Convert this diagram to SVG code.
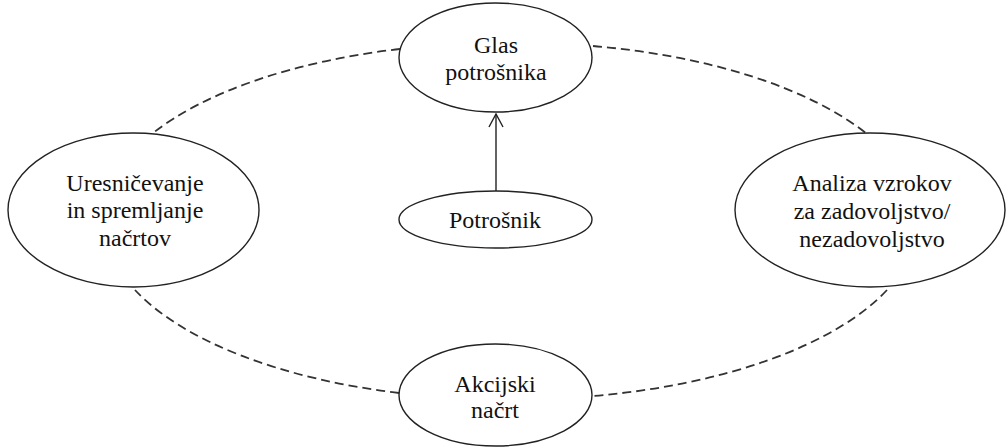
<svg xmlns="http://www.w3.org/2000/svg" width="1006" height="447" viewBox="0 0 1006 447">
  <defs>
    <style>
      .node { fill: #ffffff; stroke: #222222; stroke-width: 1.4; }
      .label { font-size: 24px; fill: #111111; text-anchor: middle; }
      .cycle { fill: none; stroke: #333333; stroke-width: 1.8; stroke-dasharray: 9 5; }
      .link { fill: none; stroke: #222222; stroke-width: 1.4; }
    </style>
    <marker id="openArrow" viewBox="0 0 16 16" refX="14" refY="8" markerWidth="16" markerHeight="16" markerUnits="userSpaceOnUse" orient="auto">
      <path d="M1,1 L14,8 L1,15" fill="none" stroke="#222222" stroke-width="1.4"/>
    </marker>
  </defs>
  <rect width="1006" height="447" fill="#ffffff"/>

  <!-- dashed cycle linking the four stages -->
  <g id="connectors">
    <path class="cycle" d="M400,49 A399,177 0 0 0 153,133"/>
    <path class="cycle" d="M593,46 A399,177 0 0 1 867,134"/>
    <path class="cycle" d="M887,290 A399,177 0 0 1 593,396"/>
    <path class="cycle" d="M399,393 A399,177 0 0 1 135,290"/>
    <line class="link" x1="496" y1="191" x2="496" y2="114" marker-end="url(#openArrow)"/>
  </g>

  <g style="font-family: 'Times New Roman', 'Liberation Serif', Times, serif">
    <g id="glas-potrosnika">
      <ellipse class="node" cx="495.5" cy="57.5" rx="96.5" ry="54.5"/>
      <text class="label" x="496" y="53">Glas</text>
      <text class="label" x="496" y="80">potrošnika</text>
    </g>

    <g id="potrosnik">
      <ellipse class="node" cx="495.5" cy="219.5" rx="96.5" ry="28.5"/>
      <text class="label" x="495" y="228">Potrošnik</text>
    </g>

    <g id="uresnicevanje">
      <ellipse class="node" cx="133.5" cy="210" rx="125.5" ry="77"/>
      <text class="label" x="135" y="191">Uresničevanje</text>
      <text class="label" x="135" y="218">in spremljanje</text>
      <text class="label" x="135" y="246">načrtov</text>
    </g>

    <g id="analiza">
      <ellipse class="node" cx="870" cy="210" rx="135" ry="77"/>
      <text class="label" x="872" y="191">Analiza vzrokov</text>
      <text class="label" x="872" y="219">za zadovoljstvo/</text>
      <text class="label" x="872" y="247">nezadovoljstvo</text>
    </g>

    <g id="akcijski-nacrt">
      <ellipse class="node" cx="495.5" cy="395" rx="96.5" ry="51"/>
      <text class="label" x="495" y="392">Akcijski</text>
      <text class="label" x="495" y="418">načrt</text>
    </g>
  </g>
</svg>
